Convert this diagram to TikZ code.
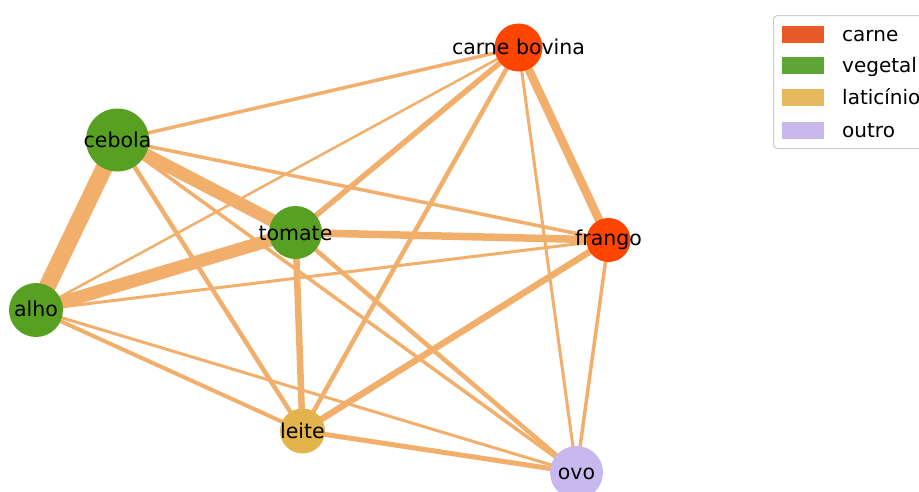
\documentclass[tikz,border=0pt]{standalone}
\usepackage{fontspec}
\setmainfont{DejaVu Sans}
\usetikzlibrary{backgrounds}
\definecolor{edgec}{RGB}{242,174,107}
\definecolor{carnec}{RGB}{255,69,0}
\definecolor{vegc}{RGB}{87,160,34}
\definecolor{latc}{RGB}{227,180,75}
\definecolor{outc}{RGB}{199,184,238}
\definecolor{lcarne}{RGB}{232,90,40}
\definecolor{lveg}{RGB}{95,166,55}
\definecolor{llat}{RGB}{229,186,94}
\definecolor{lout}{RGB}{200,185,236}
\definecolor{lframe}{RGB}{204,204,204}
\tikzset{
  vnode/.style={circle, inner sep=0pt, draw=none},
  vlabel/.style={anchor=base, inner sep=0pt, font=\fontsize{20.5}{24}\selectfont},
  edgeline/.style={draw=edgec, line cap=butt},
  lpatch/.style={rectangle, inner sep=0pt, minimum width=42, minimum height=17, draw=none},
  ltext/.style={anchor=base west, inner sep=0pt, font=\fontsize{20}{24}\selectfont}
}
\begin{document}
\begin{tikzpicture}[x=1pt, y=-1pt]
\useasboundingbox (0,0) rectangle (919,491);
\clip (0,0) rectangle (919,491);
% nodes
\node[vnode, fill=carnec, minimum size=48] (cb) at (518.5,47.5) {};
\node[vnode, fill=vegc, minimum size=63] (ceb) at (117.5,140) {};
\node[vnode, fill=vegc, minimum size=53] (tom) at (295.5,232.5) {};
\node[vnode, fill=carnec, minimum size=44] (fra) at (608.5,240) {};
\node[vnode, fill=vegc, minimum size=54] (alh) at (36,310) {};
\node[vnode, fill=latc, minimum size=45] (lei) at (302.5,431) {};
\node[vnode, fill=outc, minimum size=53] (ovo) at (576.5,472.5) {};
% labels
\node[vlabel] (tcb) at ([yshift=-6.5pt]cb.center) {carne bovina};
\node[vlabel] (tceb) at ([yshift=-7pt]ceb.center) {cebola};
\node[vlabel] (ttom) at ([yshift=-8pt]tom.center) {tomate};
\node[vlabel] (tfra) at ([yshift=-5pt]fra.center) {frango};
\node[vlabel] (talh) at ([yshift=-6pt]alh.center) {alho};
\node[vlabel] (tlei) at ([yshift=-7pt]lei.center) {leite};
\node[vlabel] (tovo) at ([yshift=-6.5pt]ovo.center) {ovo};
% edges
\begin{scope}[on background layer]
\draw[edgeline, line width=3.5] (cb.center) -- (ceb.center);
\draw[edgeline, line width=2.5] (cb.center) -- (alh.center);
\draw[edgeline, line width=5.5] (cb.center) -- (tom.center);
\draw[edgeline, line width=8.5] (cb.center) -- (fra.center);
\draw[edgeline, line width=4.5] (cb.center) -- (lei.center);
\draw[edgeline, line width=3] (cb.center) -- (ovo.center);
\draw[edgeline, line width=17] (ceb.center) -- (alh.center);
\draw[edgeline, line width=13] (ceb.center) -- (tom.center);
\draw[edgeline, line width=3.5] (ceb.center) -- (fra.center);
\draw[edgeline, line width=4.5] (ceb.center) -- (lei.center);
\draw[edgeline, line width=3.5] (ceb.center) -- (ovo.center);
\draw[edgeline, line width=13] (tom.center) -- (alh.center);
\draw[edgeline, line width=7.5] (tom.center) -- (fra.center);
\draw[edgeline, line width=6.5] (tom.center) -- (lei.center);
\draw[edgeline, line width=4.5] (tom.center) -- (ovo.center);
\draw[edgeline, line width=3] (fra.center) -- (alh.center);
\draw[edgeline, line width=6.5] (fra.center) -- (lei.center);
\draw[edgeline, line width=3.5] (fra.center) -- (ovo.center);
\draw[edgeline, line width=4] (alh.center) -- (lei.center);
\draw[edgeline, line width=3] (alh.center) -- (ovo.center);
\draw[edgeline, line width=5] (lei.center) -- (ovo.center);
\end{scope}
% legend
\node[draw=lframe, line width=1, rounded corners=4, fill=white, minimum width=170, minimum height=133, anchor=north west, inner sep=0pt] (leg) at (773,15) {};
\node[lpatch, fill=lcarne] (p1) at (803,34) {};
\node[lpatch, fill=lveg] (p2) at (803,65.5) {};
\node[lpatch, fill=llat] (p3) at (803,97.5) {};
\node[lpatch, fill=lout] (p4) at (803,130) {};
\node[ltext] (l1) at (842,41) {carne};
\node[ltext] (l2) at (842,72.5) {vegetal};
\node[ltext] (l3) at (842,104.5) {laticínio};
\node[ltext] (l4) at (842,137) {outro};
\end{tikzpicture}
\end{document}
